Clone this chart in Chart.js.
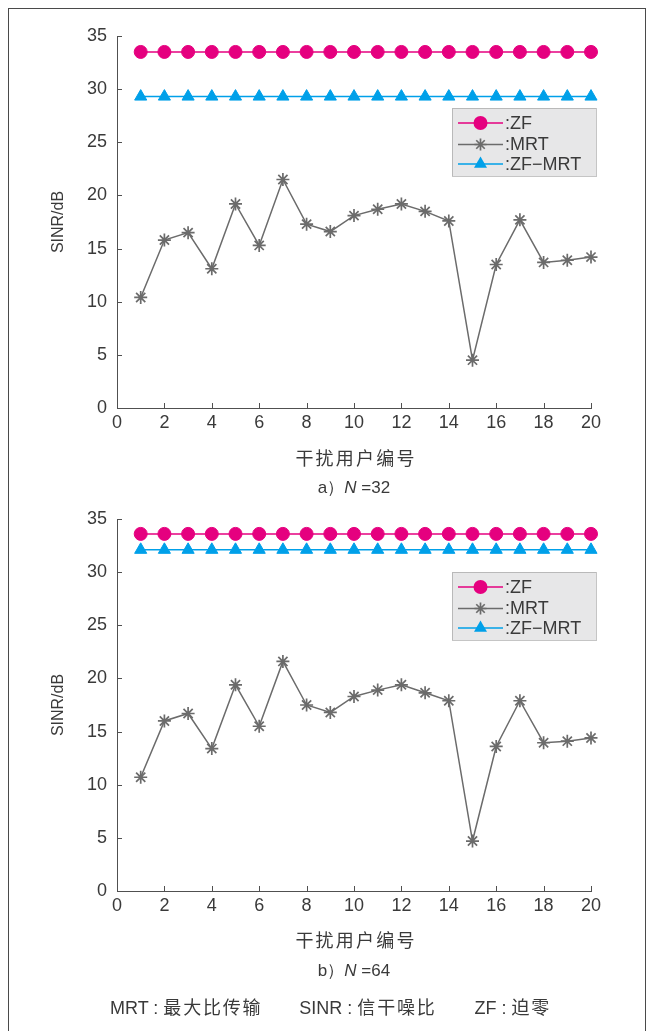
<!DOCTYPE html>
<html><head><meta charset="utf-8">
<script src="https://cdn.jsdelivr.net/npm/chart.js@4.4.1/dist/chart.umd.min.js"></script>
<style>
html,body{margin:0;padding:0;background:#fff;}
body{width:648px;height:1031px;position:relative;overflow:hidden;font-family:"Liberation Sans",Arial,sans-serif;color:#3a3a3a;}
#frame{position:absolute;left:8px;top:8px;width:638px;height:1100px;border:1.5px solid #4a4a4a;box-sizing:border-box;}
canvas{position:absolute;left:0;}
.t{position:absolute;left:154px;width:400px;text-align:center;line-height:20px;white-space:nowrap;}
.cjk{font-family:"Noto Sans CJK SC","Liberation Sans",sans-serif;font-size:18px;letter-spacing:2.2px;padding-left:2px;}
.cap{font-size:17px;}
.foot{position:absolute;left:110px;top:996px;line-height:20px;font-size:18px;white-space:nowrap;}
.foot span.z{font-family:"Noto Sans CJK SC",sans-serif;letter-spacing:1.8px;}
</style></head>
<body>
<div id="frame"></div>
<canvas id="c1" width="648" height="482" style="top:0"></canvas>
<canvas id="c2" width="648" height="482" style="top:483px"></canvas>
<div class="t cjk" style="top:447px">干扰用户编号</div>
<div class="t cap" style="top:478px">a）<i>N</i> =32</div>
<div class="t cjk" style="top:929px">干扰用户编号</div>
<div class="t cap" style="top:961px">b）<i>N</i> =64</div>
<div class="foot">MRT : <span class="z">最大比传输</span><span style="display:inline-block;width:37px"></span>SINR : <span class="z">信干噪比</span><span style="display:inline-block;width:38px"></span>ZF : <span class="z">迫零</span></div>
<script>
// ---- data ----
const users = [1,2,3,4,5,6,7,8,9,10,11,12,13,14,15,16,17,18,19,20];
const xTicks = [0,2,4,6,8,10,12,14,16,18,20];
const yTicks = [0,5,10,15,20,25,30,35];
const seriesNames = [':ZF', ':MRT', ':ZF\u2212MRT'];

const zf32    = [33.5,33.5,33.5,33.5,33.5,33.5,33.5,33.5,33.5,33.5,33.5,33.5,33.5,33.5,33.5,33.5,33.5,33.5,33.5,33.5];
const mrt32   = [10.4,15.8,16.5,13.1,19.2,15.3,21.5,17.3,16.6,18.1,18.7,19.2,18.5,17.6,4.5,13.5,17.7,13.7,13.9,14.2];
const zfmrt32 = [29.3,29.3,29.3,29.3,29.3,29.3,29.3,29.3,29.3,29.3,29.3,29.3,29.3,29.3,29.3,29.3,29.3,29.3,29.3,29.3];

const zf64    = [33.6,33.6,33.6,33.6,33.6,33.6,33.6,33.6,33.6,33.6,33.6,33.6,33.6,33.6,33.6,33.6,33.6,33.6,33.6,33.6];
const mrt64   = [10.7,16.0,16.7,13.4,19.4,15.5,21.6,17.5,16.8,18.3,18.9,19.4,18.65,17.9,4.7,13.6,17.9,13.95,14.1,14.4];
const zfmrt64 = [32.1,32.1,32.1,32.1,32.1,32.1,32.1,32.1,32.1,32.1,32.1,32.1,32.1,32.1,32.1,32.1,32.1,32.1,32.1,32.1];

// ---- styles ----
const MAG = '#e5007f', GREY = '#6b6b6b', CYAN = '#00a0e9';
const AXIS = '#505050', TXT = '#3a3a3a';
const FONT = {family:'"Liberation Sans", Arial, sans-serif', size:18};

function pts(arr){ return users.map((u,i)=>({x:u, y:arr[i]})); }

function marker(ctx, style, x, y, r, color, bw){
  ctx.save();
  ctx.strokeStyle = color; ctx.fillStyle = color; ctx.lineWidth = bw;
  ctx.beginPath();
  if (style === 'circle'){ ctx.arc(x,y,r,0,Math.PI*2); ctx.fill(); }
  else if (style === 'triangle'){
    for (let k=0;k<3;k++){ const a = -Math.PI/2 + k*2*Math.PI/3; const px = x + r*Math.cos(a), py = y + r*Math.sin(a); k?ctx.lineTo(px,py):ctx.moveTo(px,py); }
    ctx.closePath(); ctx.fill();
  } else if (style === 'star'){
    for (let k=0;k<4;k++){ const a = k*Math.PI/4; ctx.moveTo(x - r*Math.cos(a), y - r*Math.sin(a)); ctx.lineTo(x + r*Math.cos(a), y + r*Math.sin(a)); }
    ctx.stroke();
  }
  ctx.restore();
}

const inwardTicks = {
  id:'inwardTicks',
  afterDraw(chart){
    const {ctx, chartArea:a, scales:{x,y}} = chart;
    ctx.save(); ctx.strokeStyle = AXIS; ctx.lineWidth = 1;
    xTicks.forEach(v=>{ const px = Math.round(x.getPixelForValue(v))+0.5; ctx.beginPath(); ctx.moveTo(px, a.bottom); ctx.lineTo(px, a.bottom-5); ctx.stroke(); });
    yTicks.forEach(v=>{ const py = Math.round(y.getPixelForValue(v))+0.5; ctx.beginPath(); ctx.moveTo(a.left, py); ctx.lineTo(a.left+5, py); ctx.stroke(); });
    ctx.restore();
  }
};

const boxLegend = {
  id:'boxLegend',
  afterDraw(chart, args, opts){
    const ctx = chart.ctx;
    const L = opts.left, T = opts.top, W = opts.width, H = opts.height;
    ctx.save();
    ctx.fillStyle = '#e7e7e8'; ctx.fillRect(L, T, W, H);
    ctx.strokeStyle = '#8a8a8a'; ctx.lineWidth = 1; ctx.setLineDash([1,1]);
    ctx.strokeRect(L+0.5, T+0.5, W, H);
    ctx.setLineDash([]);
    const rows = [15, 36.5, 56];
    chart.data.datasets.forEach((ds,i)=>{
      const yy = T + rows[i];
      ctx.strokeStyle = ds.borderColor; ctx.lineWidth = ds.borderWidth;
      ctx.beginPath(); ctx.moveTo(L+6, yy); ctx.lineTo(L+51, yy); ctx.stroke();
      marker(ctx, ds.pointStyle, L+28.5, yy, ds.legendRadius, ds.borderColor, ds.pointBorderWidth);
      ctx.fillStyle = TXT; ctx.font = '18px "Liberation Sans", Arial, sans-serif';
      ctx.textBaseline = 'middle'; ctx.textAlign = 'left';
      ctx.fillText(ds.label, L+53, yy+1);
    });
    ctx.restore();
  }
};

function makeChart(id, zf, mrt, zfmrt, legendTop){
  return new Chart(document.getElementById(id), {
    type:'line',
    data:{datasets:[
      {label:seriesNames[0], data:pts(zf), borderColor:MAG, backgroundColor:MAG, borderWidth:1.5,
       pointStyle:'circle', pointRadius:6.5, pointBorderWidth:1, legendRadius:7, clip:false},
      {label:seriesNames[1], data:pts(mrt), borderColor:GREY, backgroundColor:GREY, borderWidth:1.5,
       pointStyle:'star', pointRadius:6.5, pointBorderWidth:1.7, legendRadius:6, clip:false},
      {label:seriesNames[2], data:pts(zfmrt), borderColor:CYAN, backgroundColor:CYAN, borderWidth:1.5,
       pointStyle:'triangle', pointRadius:7, pointBorderWidth:1, legendRadius:7.5, clip:false}
    ]},
    options:{
      responsive:false, animation:false, devicePixelRatio:1,
      layout:{padding:{top:36, right:57, left:0, bottom:0}},
      elements:{line:{tension:0}},
      plugins:{legend:{display:false}, tooltip:{enabled:false},
        boxLegend:{left:452, top:legendTop, width:144, height:68}},
      scales:{
        x:{type:'linear', min:0, max:20,
           afterBuildTicks:s=>{ s.ticks = xTicks.map(v=>({value:v})); },
           ticks:{color:TXT, font:FONT, padding:4, maxRotation:0, autoSkip:false},
           grid:{display:true, drawOnChartArea:false, drawTicks:false},
           border:{display:true, color:AXIS, width:1},
           afterFit:s=>{ s.height = 74; }},
        y:{type:'linear', min:0, max:35,
           afterBuildTicks:s=>{ s.ticks = yTicks.map(v=>({value:v})); },
           ticks:{color:TXT, font:FONT, padding:10},
           grid:{display:true, drawOnChartArea:false, drawTicks:false},
           border:{display:true, color:AXIS, width:1},
           title:{display:true, text:'SINR/dB', color:TXT, font:{family:FONT.family, size:16}, padding:{top:49, bottom:0}},
           afterFit:s=>{ s.width = 117; }}
      }
    },
    plugins:[inwardTicks, boxLegend]
  });
}

makeChart('c1', zf32, mrt32, zfmrt32, 108);
makeChart('c2', zf64, mrt64, zfmrt64, 89);
</script>
</body></html>
